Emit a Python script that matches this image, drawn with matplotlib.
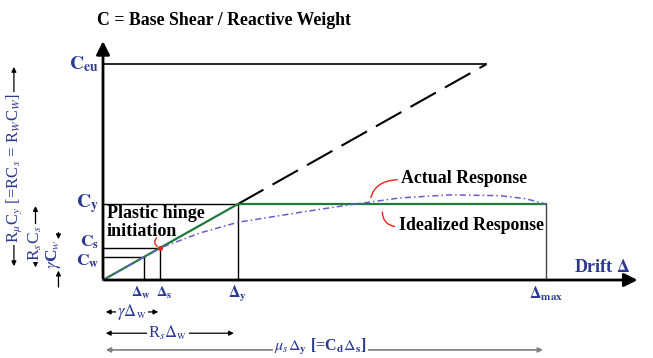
import matplotlib
matplotlib.use('Agg')
import matplotlib.pyplot as plt

plt.rcParams['font.family'] = ['Liberation Serif', 'DejaVu Serif']
plt.rcParams['mathtext.fontset'] = 'stix'

# drift levels (normalised by the yield drift)
drift_w = 0.30
drift_s = 0.42
drift_y = 1.0
drift_max = 3.28

# seismic coefficients (normalised by C_y)
c_w = 0.30
c_s = 0.42
c_y = 1.0
c_eu = 2.84

# actual (curved) response
actual_drift = [0, 0.42, 0.72, 1.0, 1.46, 1.83, 2.2, 2.57, 2.94, 3.13, 3.28]
actual_c = [0, 0.42, 0.62, 0.76, 0.89, 0.99, 1.08, 1.12, 1.11, 1.07, 1.0]

blue = '#2B3990'
green = '#1E7B3A'
red = '#E8221E'

fig = plt.figure(figsize=(6.53, 3.58), dpi=100)
ax = fig.add_axes([0, 0, 1, 1])
ax.set_xlim(-0.763, 4.074)
ax.set_ylim(-1.026, 3.684)
ax.axis('off')

# axes with arrow heads
ax.annotate('', xy=(0, 3.18), xytext=(0, -0.01),
            arrowprops=dict(arrowstyle='-|>', mutation_scale=20, lw=2, color='black'))
ax.annotate('', xy=(3.98, 0), xytext=(-0.01, 0),
            arrowprops=dict(arrowstyle='-|>', mutation_scale=20, lw=2, color='black'))

# reference lines for each level
ax.plot([0, c_eu], [c_eu, c_eu], color='black', lw=1.2)
ax.plot([0, drift_y], [c_y, c_y], color='black', lw=1)
ax.plot([0, drift_s], [c_s, c_s], color='black', lw=1)
ax.plot([0, drift_w], [c_w, c_w], color='black', lw=1)
ax.plot([drift_w, drift_w], [0, c_w], color='black', lw=1)
ax.plot([drift_s, drift_s], [0, c_s], color='black', lw=1)
ax.plot([drift_y, drift_y], [0, c_y], color='black', lw=1)
ax.plot([drift_max, drift_max], [0, c_y], color='#444444', lw=1)

# elastic extension up to C_eu
ax.plot([drift_y, c_eu], [c_y, c_eu], color='black', lw=1.5, dashes=(14, 5))

# idealized and actual response
ax.plot([0, drift_y, drift_max], [0, c_y, c_y], color=green, lw=1.6)
ax.plot(actual_drift, actual_c, color='#6A5ACD', lw=1.1, dashes=(4, 2, 1, 2))

# level labels on the C axis
lab = dict(color=blue, fontweight='bold', ha='right', va='center')
ax.text(-0.03, c_eu, r'$\mathbf{C}_{\mathbf{eu}}$', fontsize=14, **lab)
ax.text(-0.03, c_y, r'$\mathbf{C}_{\mathbf{y}}$', fontsize=14, **lab)
ax.text(-0.03, 0.49, r'$\mathbf{C}_{\mathbf{s}}$', fontsize=12.5, **lab)
ax.text(-0.03, 0.25, r'$\mathbf{C}_{\mathbf{w}}$', fontsize=12.5, **lab)

# drift labels
dl = dict(color=blue, ha='center', va='center')
ax.text(drift_w - 0.02, -0.17, r'$\mathbf{\Delta_{w}}$', fontsize=10.5, **dl)
ax.text(drift_s + 0.03, -0.17, r'$\mathbf{\Delta_{s}}$', fontsize=10.5, **dl)
ax.text(drift_y, -0.18, r'$\mathbf{\Delta_{y}}$', fontsize=11.5, **dl)
ax.text(drift_max, -0.18, r'$\mathbf{\Delta_{max}}$', fontsize=11.5, **dl)

ax.text(-0.044, 3.41, 'C = Base Shear / Reactive Weight', fontsize=12.8,
        fontweight='bold', va='center', ha='left')
ax.text(3.49, 0.16, r'Drift $\mathbf{\Delta}$', color=blue, fontsize=13,
        fontweight='bold', va='center', ha='left')

ax.text(0.03, 0.76, 'Plastic hinge\ninitiation', fontsize=13, fontweight='bold',
        va='center', ha='left', linespacing=1.05)
ax.text(2.21, 1.34, 'Actual Response', fontsize=12.8, fontweight='bold',
        va='center', ha='left')
ax.text(2.19, 0.72, 'Idealized Response', fontsize=12.8, fontweight='bold',
        va='center', ha='left')

# red leader lines
ax.annotate('', xy=(2.2, 1.32), xytext=(1.98, 1.05),
            arrowprops=dict(arrowstyle='-', color=red, lw=1,
                            connectionstyle='angle3,angleA=80,angleB=0'))
ax.annotate('', xy=(2.18, 0.70), xytext=(2.07, 0.93),
            arrowprops=dict(arrowstyle='-', color=red, lw=1,
                            connectionstyle='arc3,rad=0.5'))
ax.annotate('', xy=(drift_s, c_s), xytext=(0.41, 0.58),
            arrowprops=dict(arrowstyle='-', color=red, lw=1,
                            connectionstyle='arc3,rad=0.7'))
ax.plot([drift_s], [c_s], 'o', color=red, ms=2.5)

# vertical dimension arrows
box = dict(facecolor='white', edgecolor='none', pad=1)
ax.annotate('', xy=(-0.66, 2.84), xytext=(-0.66, 0.145),
            arrowprops=dict(arrowstyle='<|-|>', mutation_scale=7, lw=0.9, color='black'))
ax.text(-0.66, 1.47, r'R$_\mu$C$_y$ [=RC$_s$ = R$_W$C$_W$]', rotation=90,
        color=blue, fontsize=12, ha='center', va='center', bbox=box)
ax.annotate('', xy=(-0.50, 1.01), xytext=(-0.50, 0.13),
            arrowprops=dict(arrowstyle='<|-|>', mutation_scale=7, lw=0.9, color='black'))
ax.text(-0.50, 0.49, r'R$_s$C$_s$', rotation=90,
        color=blue, fontsize=12.5, ha='center', va='center', bbox=box)
ax.annotate('', xy=(-0.33, 0.50), xytext=(-0.33, 0.66),
            arrowprops=dict(arrowstyle='-|>', mutation_scale=7, lw=0.9, color='black'))
ax.annotate('', xy=(-0.33, 0.16), xytext=(-0.33, -0.13),
            arrowprops=dict(arrowstyle='-|>', mutation_scale=7, lw=0.9, color='black'))
ax.text(-0.37, 0.34, r'$\gamma$C$_w$', rotation=90,
        color=blue, fontsize=12.5, ha='center', va='center', fontweight='bold')

# horizontal dimension arrows
ax.annotate('', xy=(0, -0.42), xytext=(0.43, -0.42),
            arrowprops=dict(arrowstyle='<|-|>', mutation_scale=7, lw=0.9, color='black'))
ax.text(0.215, -0.42, r'$\gamma\Delta_\mathrm{w}$', color=blue, fontsize=12,
        ha='center', va='center', bbox=box)
ax.annotate('', xy=(0, -0.70), xytext=(0.99, -0.70),
            arrowprops=dict(arrowstyle='<|-|>', mutation_scale=7, lw=0.9, color='black'))
ax.text(0.48, -0.70, r'R$_s\Delta_\mathrm{w}$', color=blue, fontsize=12,
        ha='center', va='center', bbox=box)
ax.annotate('', xy=(0, -0.92), xytext=(drift_max, -0.92),
            arrowprops=dict(arrowstyle='<|-|>', mutation_scale=7, lw=1.2, color='#808080'))
ax.text(1.61, -0.88, r'$\mu_s\Delta_\mathbf{y}$ [=C$_\mathbf{d}\Delta_\mathbf{s}$]',
        color=blue, fontsize=11.5, fontweight='bold', ha='center', va='center',
        bbox=dict(facecolor='white', edgecolor='none', pad=1))

fig.savefig('out.png', dpi=100)
